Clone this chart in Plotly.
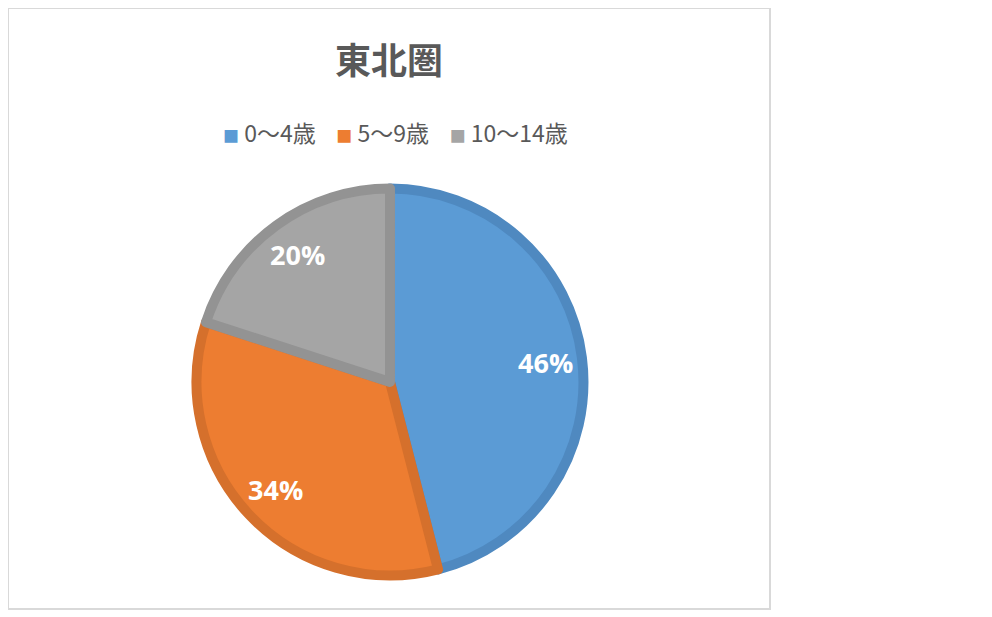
import math
import plotly.graph_objects as go

labels = ['0～4歳', '5～9歳', '10～14歳']
values = [46, 34, 20]
fill_colors = ['#5b9bd5', '#ed7d31', '#a5a5a5']
edge_colors = ['#4f89c0', '#d5702c', '#939393']

# plot area (paper) is 762 x 601 px
PW, PH = 762, 601
dom_x = [0.2474, 0.7552]
dom_y = [0.0557, 0.6997]

fig = go.Figure()
fig.add_trace(go.Pie(
    labels=labels,
    values=values,
    sort=False,
    direction='clockwise',
    rotation=0,
    marker=dict(colors=fill_colors, line=dict(color=edge_colors, width=10)),
    textinfo='none',
    domain=dict(x=dom_x, y=dom_y),
    hoverinfo='label+percent',
    showlegend=False,
))

# percent labels, placed out toward the rim like the original
cx = sum(dom_x) / 2
cy = sum(dom_y) / 2
r_px = 157
total = sum(values)
acc = 0
for v in values:
    mid = (acc + v / 2) / total * 2 * math.pi
    acc += v
    fig.add_annotation(
        text='<b>%d%%</b>' % round(v / total * 100),
        x=cx + r_px * math.sin(mid) / PW, y=cy + r_px * math.cos(mid) / PH,
        xref='paper', yref='paper', showarrow=False,
        xanchor='center', yanchor='middle',
        font=dict(size=27, color='white', family='Open Sans, Noto Sans, sans-serif'),
    )

fig.add_annotation(
    text='<b>東北圏</b>', x=0.5, y=0.917, xref='paper', yref='paper',
    showarrow=False, font=dict(size=36, color='#595959', family='Noto Sans CJK JP'),
    xanchor='center', yanchor='middle',
)

# legend line
items = []
for lab, col in zip(labels, fill_colors):
    items.append('<span style="color:%s;font-size:16px">■</span>\u00a0%s' % (col, lab))
fig.add_annotation(
    text='\u00a0\u00a0\u00a0\u00a0'.join(items), x=0.508, y=0.7937,
    xref='paper', yref='paper', showarrow=False,
    font=dict(size=23, color='#595959', family='Noto Sans CJK JP'),
    xanchor='center', yanchor='middle',
)

fig.add_shape(type='rect', xref='paper', yref='paper', x0=0, y0=0, x1=1, y1=1,
              line=dict(color='#d9d9d9', width=2))

fig.update_layout(
    width=992, height=617,
    margin=dict(l=0, r=230, t=0, b=16),
    paper_bgcolor='white', plot_bgcolor='white',
)

fig.write_html("out.html")
